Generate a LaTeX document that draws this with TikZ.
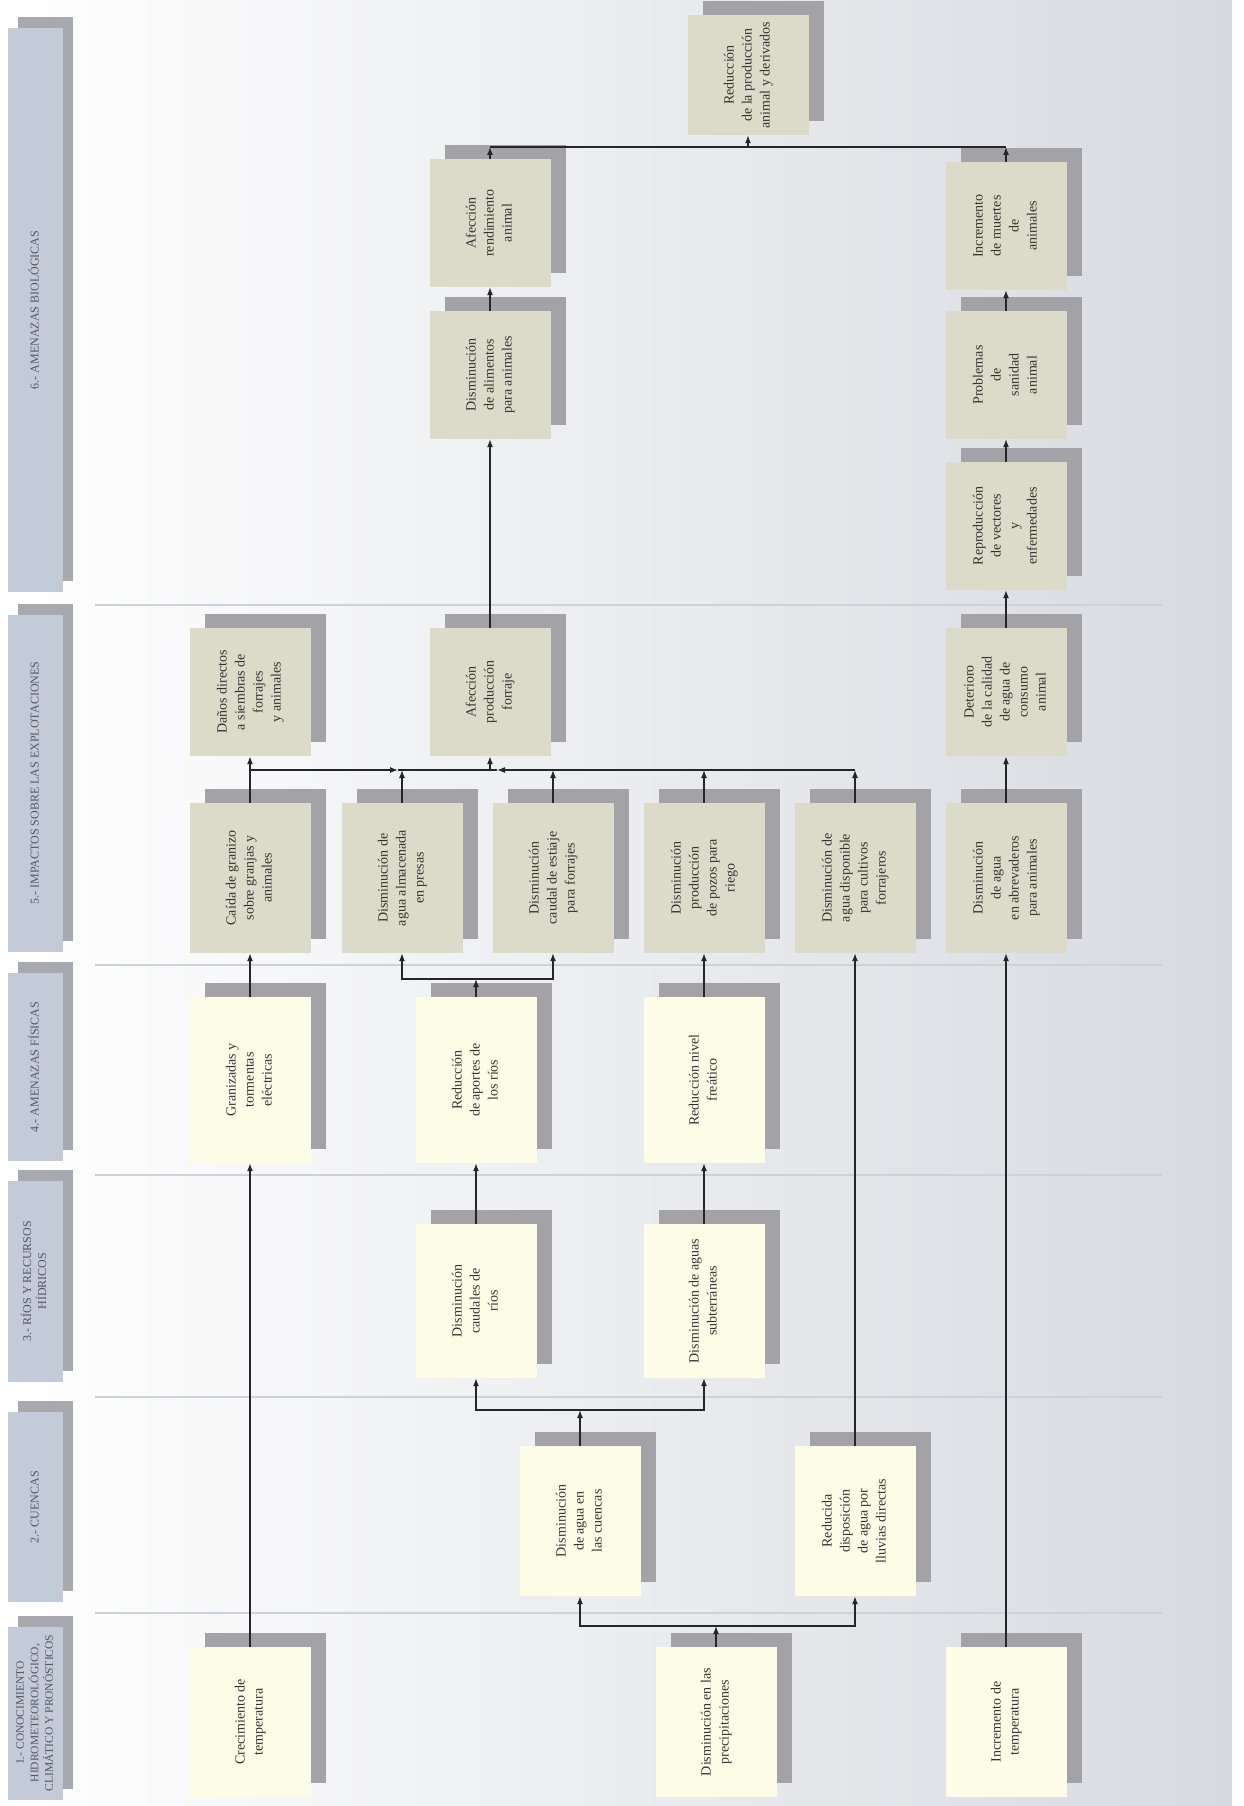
\documentclass[tikz,border=0pt]{standalone}
\usepackage{fontspec}
\setmainfont{Liberation Serif}
\usetikzlibrary{shadows,arrows.meta}
\definecolor{bgR}{HTML}{D7DAE0}
\definecolor{ycol}{HTML}{FDFCE6}
\definecolor{bcol}{HTML}{DCDAC8}
\definecolor{shcol}{HTML}{A2A2A7}
\definecolor{hcol}{HTML}{C3CBD9}
\definecolor{hsh}{HTML}{A8A8AF}
\definecolor{txt}{HTML}{333333}
\definecolor{htxt}{HTML}{555560}
\definecolor{sepc}{HTML}{CDD1D8}
\newcommand\rottxt[1]{\rotatebox{90}{\begin{tabular}{@{}c@{}}#1\end{tabular}}}
\begin{document}
\begin{tikzpicture}[x=1pt,y=-1pt,
 base/.style={inner sep=0pt, text=txt, minimum width=121pt,
   general shadow={fill=shcol, shadow xshift=15pt, shadow yshift=14pt},
   font=\fontsize{14}{18}\selectfont},
 ybox/.style={base, fill=ycol},
 bbox/.style={base, fill=bcol},
 hbox/.style={inner sep=0pt, fill=hcol, minimum width=55pt, text=htxt,
   general shadow={fill=hsh, shadow xshift=10pt, shadow yshift=11pt},
   font=\fontsize{12}{15}\selectfont},
 arr/.style={draw=black!85, line width=1.3pt, -{Latex[length=8pt,width=6pt]}},
 ln/.style={draw=black!85, line width=1.3pt},
 sepline/.style={draw=sepc, line width=1.5pt}]
\useasboundingbox (0,0) rectangle (1244,1806);
\fill[white] (0,0) rectangle (1244,1806);
\shade[left color=white, right color=bgR] (0,0) rectangle (1232,1806);
% separators
\foreach \yy in {605,965,1175,1397,1613}
  \draw[sepline] (95,\yy) -- (1162,\yy);
% headers
\node[hbox, minimum height=173pt, font=\fontsize{11.5}{14.5}\selectfont] (h1) at (35.5,1713) {\rottxt{1.- CONOCIMIENTO\\HIDROMETEOROLÓGICO,\\CLIMÁTICO Y PRONÓSTICOS}};
\node[hbox, minimum height=190pt] (h2) at (35.5,1507) {\rottxt{2.- CUENCAS}};
\node[hbox, minimum height=201pt] (h3) at (35.5,1281) {\rottxt{3.- RÍOS Y RECURSOS\\HÍDRICOS}};
\node[hbox, minimum height=188pt] (h4) at (35.5,1067) {\rottxt{4.- AMENAZAS FÍSICAS}};
\node[hbox, minimum height=337pt] (h5) at (35.5,783) {\rottxt{5.- IMPACTOS SOBRE LAS EXPLOTACIONES}};
\node[hbox, minimum height=563pt] (h6) at (35.5,310) {\rottxt{6.- AMENAZAS BIOLÓGICAS}};
% row 1
\node[ybox, minimum height=150pt] (r1a) at (250,1722) {\rottxt{Crecimiento de\\temperatura}};
\node[ybox, minimum height=150pt] (r1b) at (716,1722) {\rottxt{Disminución en las\\precipitaciones}};
\node[ybox, minimum height=150pt] (r1c) at (1006,1722) {\rottxt{Incremento de\\temperatura}};
% row 2
\node[ybox, minimum height=150pt] (r2a) at (580,1521) {\rottxt{Disminución\\de agua en\\las cuencas}};
\node[ybox, minimum height=150pt] (r2b) at (855,1521) {\rottxt{Reducida\\disposición\\de agua por\\lluvias directas}};
% row 3
\node[ybox, minimum height=154pt] (r3a) at (476,1301) {\rottxt{Disminución\\caudales de\\ríos}};
\node[ybox, minimum height=154pt] (r3b) at (704,1301) {\rottxt{Disminución de aguas\\subterráneas}};
% row 4
\node[ybox, minimum height=166pt] (r4a) at (250,1080) {\rottxt{Granizadas y\\tormentas\\eléctricas}};
\node[ybox, minimum height=166pt] (r4b) at (476,1080) {\rottxt{Reducción\\de aportes de\\los ríos}};
\node[ybox, minimum height=166pt] (r4c) at (704,1080) {\rottxt{Reducción nivel\\freático}};
% row 5 lower
\node[bbox, minimum height=150pt] (r5a) at (250,878) {\rottxt{Caída de granizo\\sobre granjas y\\animales}};
\node[bbox, minimum height=150pt] (r5b) at (402,878) {\rottxt{Disminución de\\agua almacenada\\en presas}};
\node[bbox, minimum height=150pt] (r5c) at (553,878) {\rottxt{Disminución\\caudal de estiaje\\para forrajes}};
\node[bbox, minimum height=150pt] (r5d) at (704,878) {\rottxt{Disminución\\producción\\de pozos para\\riego}};
\node[bbox, minimum height=150pt] (r5e) at (855,878) {\rottxt{Disminución de\\agua disponible\\para cultivos\\forrajeros}};
\node[bbox, minimum height=150pt] (r5f) at (1006,878) {\rottxt{Disminución\\de agua\\en abrevaderos\\para animales}};
% row 5 upper
\node[bbox, minimum height=128pt] (r5g) at (250,692) {\rottxt{Daños directos\\a siembras de\\forrajes\\y animales}};
\node[bbox, minimum height=128pt] (r5h) at (490,692) {\rottxt{Afección\\producción\\forraje}};
\node[bbox, minimum height=128pt] (r5i) at (1006,692) {\rottxt{Deterioro\\de la calidad\\de agua de\\consumo\\animal}};
% row 6
\node[bbox, minimum height=128pt] (r6a) at (490,375) {\rottxt{Disminución\\de alimentos\\para animales}};
\node[bbox, minimum height=128pt] (r6b) at (490,223) {\rottxt{Afección\\rendimiento\\animal}};
\node[bbox, minimum height=120pt] (r6c) at (748,75) {\rottxt{Reducción\\de la producción\\animal y derivados}};
\node[bbox, minimum height=128pt] (r6d) at (1006,526) {\rottxt{Reproducción\\de vectores\\y\\enfermedades}};
\node[bbox, minimum height=128pt] (r6e) at (1006,375) {\rottxt{Problemas\\de\\sanidad\\animal}};
\node[bbox, minimum height=128pt] (r6f) at (1006,226) {\rottxt{Incremento\\de muertes\\de\\animales}};
% junctions
\coordinate (j1) at (716,1626);
\coordinate (j2) at (580,1410);
\coordinate (j3) at (476,979);
\coordinate (m) at (490,770);
\coordinate (mL) at (398,770);
\coordinate (mR) at (497,770);
\coordinate (t) at (748,147);
% connectors
\draw[arr] (r1b.north) -- (j1);
\draw[arr] (j1) -| (r2a.south);
\draw[arr] (j1) -| (r2b.south);
\draw[arr] (r2a.north) -- (j2);
\draw[arr] (j2) -| (r3a.south);
\draw[arr] (j2) -| (r3b.south);
\draw[arr] (r2b.north) -- (r5e.south);
\draw[arr] (r1c.north) -- (r5f.south);
\draw[arr] (r1a.north) -- (r4a.south);
\draw[arr] (r3a.north) -- (r4b.south);
\draw[arr] (r3b.north) -- (r4c.south);
\draw[arr] (r4a.north) -- (r5a.south);
\draw[arr] (r4b.north) -- (j3);
\draw[arr] (j3) -| (r5b.south);
\draw[arr] (j3) -| (r5c.south);
\draw[arr] (r4c.north) -- (r5d.south);
\draw[arr] (r5a.north) -- (r5g.south);
\draw[arr] (r5a.north |- m) -- (mL);
\draw[ln] (mL) -- (mR);
\draw[arr] (r5e.north |- m) -- (mR);
\draw[arr] (m) -- (r5h.south);
\foreach \n in {r5b,r5c,r5d,r5e}
  \draw[arr] (\n.north) -- (\n.north |- m);
\draw[arr] (r5h.north) -- (r6a.south);
\draw[arr] (r6a.north) -- (r6b.south);
\draw[arr] (r5f.north) -- (r5i.south);
\draw[arr] (r5i.north) -- (r6d.south);
\draw[arr] (r6d.north) -- (r6e.south);
\draw[arr] (r6e.north) -- (r6f.south);
\draw[arr] (r6b.north) -- (r6b.north |- t);
\draw[arr] (r6f.north) -- (r6f.north |- t);
\draw[ln] (r6b.north |- t) -- (r6f.north |- t);
\draw[arr] (t) -- (r6c.south);
\end{tikzpicture}
\end{document}
